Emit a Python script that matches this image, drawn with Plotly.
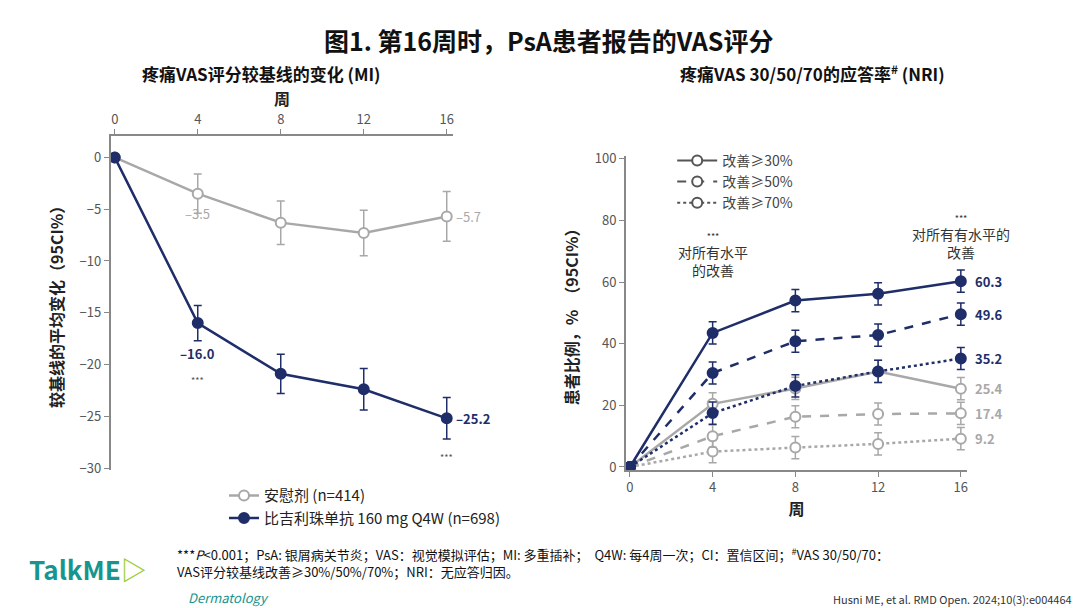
import plotly.graph_objects as go

weeks = [0, 4, 8, 12, 16]

# 左图：疼痛VAS评分较基线变化
pbo_change = [0, -3.5, -6.3, -7.3, -5.7]
pbo_change_err = [0, 1.9, 2.1, 2.2, 2.4]
bkz_change = [0, -16.0, -20.9, -22.4, -25.2]
bkz_change_err = [0, 1.7, 1.9, 2.0, 2.0]

# 右图：应答率
bkz_30 = [0, 43.5, 54.0, 56.2, 60.3]
bkz_50 = [0, 30.5, 40.8, 42.8, 49.6]
bkz_70 = [0, 17.5, 26.3, 31.0, 35.2]
pbo_30 = [0, 20.5, 25.5, 31.0, 25.4]
pbo_50 = [0, 10.0, 16.3, 17.2, 17.4]
pbo_70 = [0, 5.0, 6.3, 7.5, 9.2]
resp_err = [0, 3.6, 3.6, 3.6, 3.6]

NAVY = "#1f2d69"
GREY = "#a8a8a8"
FONT = "Noto Sans CJK SC"

fig = go.Figure()

def add(x, y, err, color, dash, filled, xa, ya, name=None, legend="legend", show=False):
    fig.add_trace(go.Scatter(
        x=x, y=y, xaxis=xa, yaxis=ya, name=name, showlegend=show, legend=legend,
        mode="lines+markers",
        line=dict(color=color, width=2.5, dash=dash),
        marker=dict(size=10, color=color if filled else "white", line=dict(color=color, width=2)),
        error_y=dict(type="data", array=err, color=color, thickness=1.5, width=4),
    ))

add(weeks, pbo_change, pbo_change_err, GREY, "solid", False, "x", "y", "安慰剂 (n=414)", show=True)
add(weeks, bkz_change, bkz_change_err, NAVY, "solid", True, "x", "y", "比吉利珠单抗 160 mg Q4W (n=698)", show=True)

add(weeks, pbo_70, resp_err, GREY, "dot", False, "x2", "y2")
add(weeks, pbo_50, resp_err, GREY, "dash", False, "x2", "y2")
add(weeks, pbo_30, resp_err, GREY, "solid", False, "x2", "y2")
add(weeks, bkz_70, resp_err, NAVY, "dot", True, "x2", "y2")
add(weeks, bkz_50, resp_err, NAVY, "dash", True, "x2", "y2")
add(weeks, bkz_30, resp_err, NAVY, "solid", True, "x2", "y2")

# 右图图例（样式示例）
for nm, dash in [("改善≥30%", "solid"), ("改善≥50%", "dash"), ("改善≥70%", "dot")]:
    fig.add_trace(go.Scatter(
        x=[None], y=[None], xaxis="x2", yaxis="y2", name=nm, legend="legend2",
        mode="lines+markers", line=dict(color="#555555", width=2, dash=dash),
        marker=dict(size=10, color="white", line=dict(color="#555555", width=2)),
    ))

axis_common = dict(showgrid=False, zeroline=False, showline=True, linecolor="#888888",
                   linewidth=1.5, ticks="outside", tickcolor="#888888", automargin=False,
                   tickfont=dict(size=13, color="#555555"))

fig.update_layout(
    width=1080, height=608, margin=dict(l=0, r=0, t=0, b=0, autoexpand=False),
    paper_bgcolor="white", plot_bgcolor="white",
    font=dict(family=FONT, color="#222222"),
    xaxis=dict(domain=[0.095, 0.412], range=[-0.2, 16.3], side="top", anchor="y",
               tickvals=weeks, **axis_common),
    yaxis=dict(domain=[0.24, 0.79], range=[-30.2, 2.1], anchor="x", dtick=5,
               title=dict(text="<b>较基线的平均变化（95CI%）</b>", font=dict(size=16), standoff=12),
               **axis_common),
    xaxis2=dict(domain=[0.572, 0.888], range=[-0.2, 16.3], anchor="y2",
                tickvals=weeks, title=dict(text="<b>周</b>", font=dict(size=16), standoff=4),
                **axis_common),
    yaxis2=dict(domain=[0.24, 0.757], range=[-1, 101], anchor="x2", dtick=20,
                title=dict(text="<b>患者比例，%  （95CI%）</b>", font=dict(size=16), standoff=12),
                **axis_common),
    legend=dict(x=0.2, y=0.225, xanchor="left", yanchor="top", font=dict(size=15),
                bgcolor="rgba(0,0,0,0)", tracegroupgap=4),
    legend2=dict(x=0.615, y=0.775, xanchor="left", yanchor="top", font=dict(size=14, color="#444444"),
                 bgcolor="rgba(0,0,0,0)", tracegroupgap=0, itemwidth=40),
)

ann = []
def txt(x, y, s, size=13, color="#333333", xref="paper", yref="paper", **kw):
    kw.setdefault("yanchor", "middle")
    kw.setdefault("xanchor", "center")
    ann.append(dict(x=x, y=y, text=s, xref=xref, yref=yref, showarrow=False,
                    font=dict(size=size, color=color, family=FONT), **kw))

txt(0.5, 0.947, "<b>图1. 第16周时，PsA患者报告的VAS评分</b>", size=25, color="#111111")
txt(0.235, 0.893, "<b>疼痛VAS评分较基线的变化 (MI)</b>", size=17, color="#111111")
txt(0.745, 0.893, "<b>疼痛VAS 30/50/70的应答率<sup>#</sup> (NRI)</b>", size=17, color="#111111")
txt(0.2535, 0.852, "<b>周</b>", size=16, color="#222222")

# 左图数值标签
for x, y, s, c, xs, ys in [(4, -3.5, "–3.5", GREY, 0, -20), (16, -5.7, "–5.7", GREY, 22, 0),
                           (4, -16.0, "<b>–16.0</b>", NAVY, 0, -30), (16, -25.2, "<b>–25.2</b>", NAVY, 26, 0)]:
    txt(x, y, s, size=13, color=c, xref="x", yref="y", xshift=xs, yshift=ys)
txt(4, -21.5, "***", size=9, color="#555555", xref="x", yref="y")
txt(16, -29.0, "***", size=9, color="#555555", xref="x", yref="y")

# 右图数值标签
for y, s, c in [(60.3, "<b>60.3</b>", NAVY), (49.6, "<b>49.6</b>", NAVY), (35.2, "<b>35.2</b>", NAVY),
                (25.4, "<b>25.4</b>", GREY), (17.4, "<b>17.4</b>", GREY), (9.2, "<b>9.2</b>", GREY)]:
    txt(16, y, s, size=13, color=c, xref="x2", yref="y2", xshift=12, xanchor="left")
txt(4, 60, "<span style='font-size:9px'>***</span><br>对所有水平<br>的改善", size=14, color="#333333",
    xref="x2", yref="y2", yanchor="bottom")
txt(16, 66, "<span style='font-size:9px'>***</span><br>对所有有水平的<br>改善", size=14, color="#333333",
    xref="x2", yref="y2", yanchor="bottom")

# 脚注
txt(0.155, 0.088, "***<i>P</i><0.001；PsA: 银屑病关节炎；VAS：视觉模拟评估；MI: 多重插补；  Q4W: 每4周一次；CI：置信区间；<sup>#</sup>VAS 30/50/70：<br>VAS评分较基线改善≥30%/50%/70%；NRI：无应答归因。",
    size=13, color="#111111", xanchor="left", align="left")
txt(0.99, 0.028, "Husni ME, et al. RMD Open. 2024;10(3):e004464.", size=11, color="#333333", xanchor="right")
txt(0.018, 0.045, "<b>TalkME</b><span style='color:#9acd32'><b>▷</b></span>", size=26, color="#17958f",
    xanchor="left", yanchor="bottom")
txt(0.165, 0.03, "<i>Dermatology</i>", size=13, color="#17958f", xanchor="left")

fig.update_layout(annotations=ann)
fig.write_html("out.html")
